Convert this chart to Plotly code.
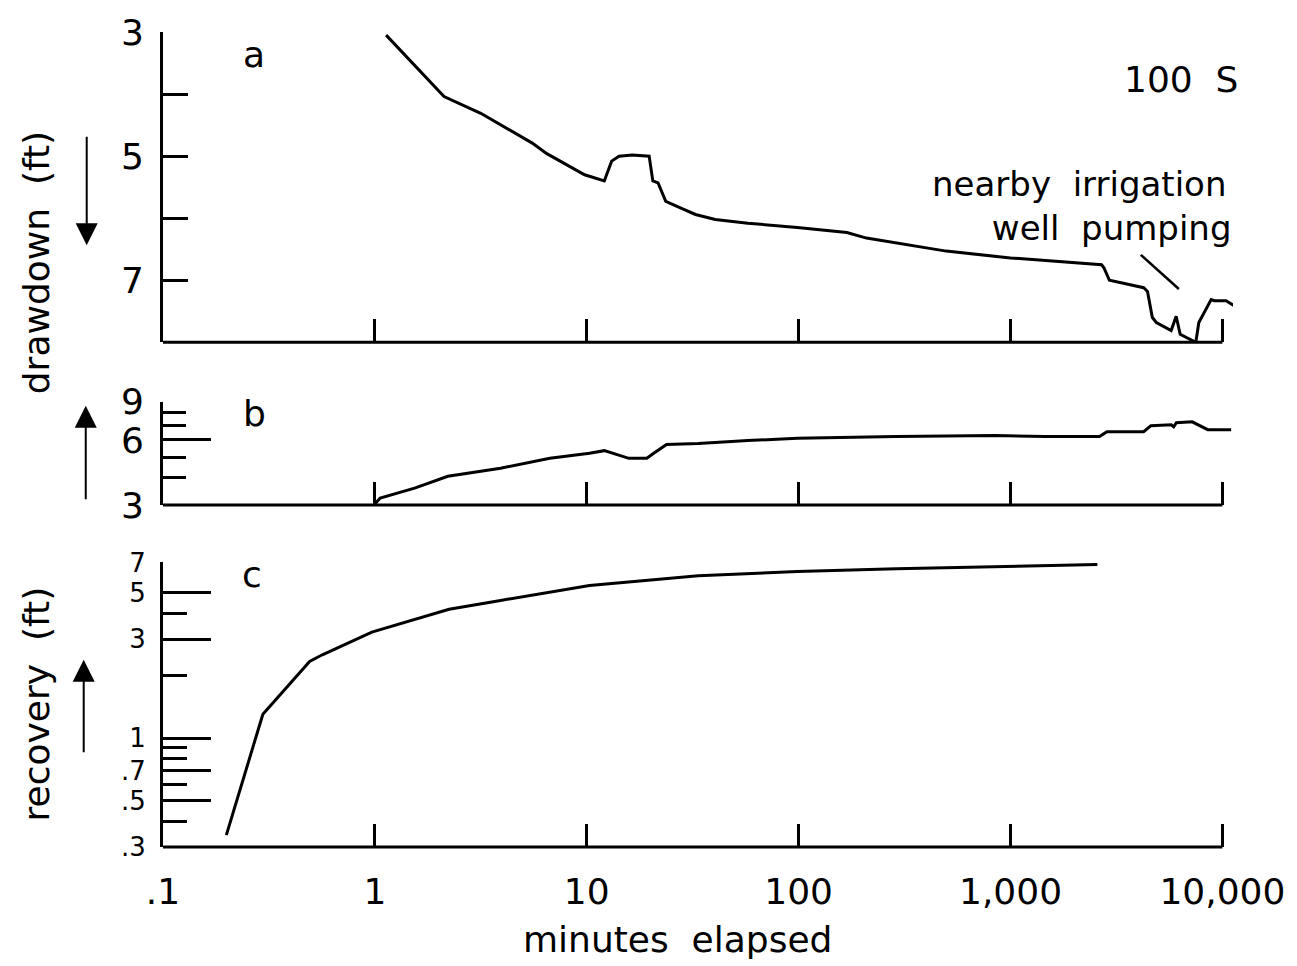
import plotly.graph_objects as go
import math

# ---- data ----
t_a = [1.13, 2.12, 3.16, 3.92, 5.53, 6.48, 7.87, 9.77, 12.1, 13.1, 14.2, 16.4, 19.7, 20.5, 21.7,
       23.6, 28.0, 32.6, 40.4, 57.6, 98.6, 169, 209, 289, 497, 1000, 2690, 2760, 2930, 4250,
       4430, 4670, 4880, 5730, 6050, 6320, 7490, 7740, 8850, 9150, 10400, 11500]
drawdown_a = [3.05, 4.04, 4.31, 4.50, 4.79, 4.96, 5.12, 5.30, 5.40, 5.08, 5.00, 4.98, 5.00, 5.40, 5.43,
              5.73, 5.84, 5.94, 6.02, 6.08, 6.15, 6.23, 6.32, 6.40, 6.53, 6.64, 6.75, 6.80, 7.00, 7.12,
              7.18, 7.60, 7.68, 7.81, 7.58, 7.87, 8.0, 7.68, 7.31, 7.33, 7.33, 7.42]

t_b = [1.0, 1.06, 1.54, 2.21, 3.92, 6.7, 10.3, 12.1, 15.8, 19.2, 20.7, 23.8, 33.6, 57.6, 98.6,
       289, 845, 1450, 2630, 2850, 4250, 4600, 5740, 5890, 6060, 7200, 8530, 11000]
drawdown_b = [3.03, 3.23, 3.59, 4.07, 4.44, 4.93, 5.2, 5.35, 4.93, 4.93, 5.2, 5.71, 5.77, 5.96, 6.1,
              6.22, 6.28, 6.22, 6.22, 6.55, 6.55, 6.98, 7.05, 6.9, 7.2, 7.27, 6.69, 6.69]

t_c = [0.199, 0.296, 0.492, 0.565, 0.968, 1.54, 2.24, 3.92, 10.3, 33.6, 98.6, 289, 845, 2570]
recovery_c = [0.342, 1.305, 2.34, 2.52, 3.24, 3.74, 4.17, 4.6, 5.43, 6.05, 6.33, 6.53, 6.68, 6.84]

pointer_t = [4120, 6230]
pointer_d = [6.59, 7.14]

x_tickvals = [0.1, 1, 10, 100, 1000, 10000]
x_ticktext = [".1", "1", "10", "100", "1,000", "10,000"]

a_tickvals = [3, 4, 5, 6, 7]
a_ticktext = ["3", "", "5", "", "7"]
b_tickvals = [3, 6, 9]
b_ticktext = ["3", "6", "9"]
b_minor = [4, 5, 7, 8]
c_tickvals = [0.3, 0.5, 0.7, 1, 3, 5, 7]
c_ticktext = [".3", ".5", ".7", "1", "3", "5", "7"]
c_minor = [0.4, 0.6, 0.8, 0.9, 2, 4]

# ---- style ----
FONT = "DejaVu Sans"
FS = 36
LW = 3
XR = [-1, 4.05]
dom_a = [0.6192, 1.0]
dom_b = [0.4197, 0.5462]
dom_c = [0.0, 0.3491]

fig = go.Figure()
line = dict(color="black", width=LW)
fig.add_trace(go.Scatter(x=t_a, y=drawdown_a, mode="lines", line=line, xaxis="x", yaxis="y"))
fig.add_trace(go.Scatter(x=pointer_t, y=pointer_d, mode="lines", line=dict(color="black", width=2.5), xaxis="x", yaxis="y"))
fig.add_trace(go.Scatter(x=t_b, y=drawdown_b, mode="lines", line=line, xaxis="x2", yaxis="y2"))
fig.add_trace(go.Scatter(x=t_c, y=recovery_c, mode="lines", line=line, xaxis="x3", yaxis="y3"))

xbase = dict(type="log", range=XR, domain=[0, 1], ticks="inside", ticklen=23, tickwidth=2.5,
             tickcolor="black", showline=False, showgrid=False, zeroline=False,
             tickvals=[1, 10, 100, 1000, 10000], showticklabels=False)
ybase = dict(ticks="inside", tickwidth=2.5, tickcolor="black", showline=True, linewidth=LW,
             linecolor="black", showgrid=False, zeroline=False, ticklabelstandoff=9,
             tickfont=dict(family=FONT, size=FS, color="black"))

fig.update_layout(
    xaxis=dict(xbase, anchor="y"),
    xaxis2=dict(xbase, anchor="y2", matches="x"),
    xaxis3=dict(xbase, anchor="y3", matches="x", tickvals=x_tickvals, ticktext=x_ticktext,
                showticklabels=True, ticklabelstandoff=20,
                tickfont=dict(family=FONT, size=FS, color="black")),
    yaxis=dict(ybase, domain=dom_a, anchor="x", range=[8, 3], tickvals=a_tickvals,
               ticktext=a_ticktext, ticklen=25),
    yaxis2=dict(ybase, domain=dom_b, anchor="x2", type="log", range=[math.log10(3), math.log10(9)],
                tickvals=b_tickvals, ticktext=b_ticktext, ticklen=48,
                minor=dict(tickmode="array", tickvals=b_minor, ticks="inside", ticklen=23,
                           tickwidth=2.5, tickcolor="black", showgrid=False)),
    yaxis3=dict(ybase, domain=dom_c, anchor="x3", type="log", range=[math.log10(0.3), math.log10(7)],
                tickvals=c_tickvals, ticktext=c_ticktext, ticklen=48,
                tickfont=dict(family=FONT, size=26, color="black"),
                minor=dict(tickmode="array", tickvals=c_minor, ticks="inside", ticklen=24,
                           tickwidth=2.5, tickcolor="black", showgrid=False)),
    width=1297, height=966,
    margin=dict(l=163, r=54, t=25, b=119),
    paper_bgcolor="white", plot_bgcolor="white",
    showlegend=False,
    font=dict(family=FONT, size=FS, color="black"),
)

# bottom axis lines ending at 10,000
x_end = (4 - XR[0]) / (XR[1] - XR[0])
for dom in (dom_a, dom_b, dom_c):
    fig.add_shape(type="line", xref="paper", yref="paper", x0=0, x1=x_end, y0=dom[0], y1=dom[0],
                  line=dict(color="black", width=LW), layer="above")

def txt(x, y, s, size=FS, **kw):
    fig.add_annotation(x=x, y=y, xref="paper", yref="paper", text=s, showarrow=False,
                       xanchor="center", yanchor="middle",
                       font=dict(family=FONT, size=size, color="black"), **kw)

txt(0.0852, 0.972, "a")
txt(0.0852, 0.5316, "b")
txt(0.0833, 0.3345, "c")
txt(0.951, 0.9416, "100  S")
txt(0.8565, 0.7871, "nearby  irrigation<br>" + "&nbsp;" * 6 + "well  pumping", size=34)
txt(0.4806, -0.113, "minutes  elapsed")
txt(-0.1185, 0.7165, "drawdown  (ft)", textangle=-90)
txt(-0.1185, 0.1752, "recovery  (ft)", textangle=-90)

def arrow(x, y, ay):
    fig.add_annotation(x=x, y=y, xref="paper", yref="paper", text="", showarrow=True,
                       ax=0, ay=ay, arrowhead=2, arrowsize=2.2, arrowwidth=2, arrowcolor="black")

arrow(-0.0713, 0.7384, -110)
arrow(-0.0722, 0.5414, 95)
arrow(-0.0741, 0.2299, 94)

fig.write_html("out.html")
